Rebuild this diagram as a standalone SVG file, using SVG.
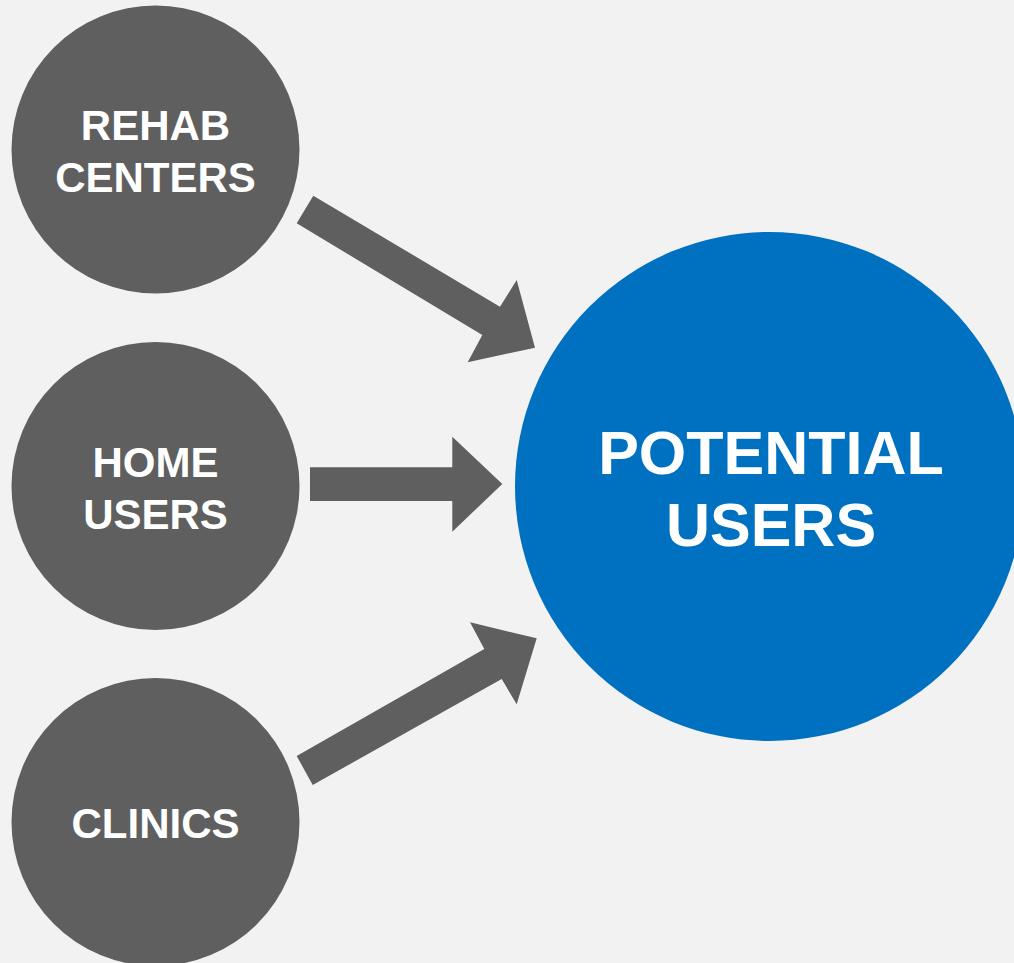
<svg xmlns="http://www.w3.org/2000/svg" width="1014" height="963" viewBox="0 0 1014 963">
<style>
.src{fill:#5f5f5f}
.dst{fill:#0070c0}
.arr{fill:#5f5f5f}
text{font-family:"Liberation Sans",Arial,sans-serif;font-weight:bold;fill:#ffffff;text-anchor:middle}
.s{font-size:42px}
.b{font-size:61px}
</style>
<rect width="1014" height="963" fill="#f2f2f2"/>
<g id="rehab">
<circle class="src" cx="155.5" cy="149.5" r="144"/>
<text class="s" x="155.5" y="140">REHAB</text>
<text class="s" x="155.5" y="192">CENTERS</text>
</g>
<g id="home">
<circle class="src" cx="155.5" cy="486" r="144"/>
<text class="s" x="155.5" y="477">HOME</text>
<text class="s" x="155.5" y="529">USERS</text>
</g>
<g id="clinics">
<circle class="src" cx="155.5" cy="822" r="144"/>
<text class="s" x="155.5" y="838">CLINICS</text>
</g>
<g id="potential">
<circle class="dst" cx="769.5" cy="486.5" r="254.5"/>
<text class="b" x="771" y="474">POTENTIAL</text>
<text class="b" x="771" y="546">USERS</text>
</g>
<g id="connectors">
<polygon class="arr" points="313.3,195.7 500,306.7 516.7,280 535,347.7 467.7,362.3 482.3,335 296.7,223.3"/>
<polygon class="arr" points="310,467.3 452.3,467.3 452.3,436.7 502.3,484 452.3,531.7 452.3,501 310,501"/>
<polygon class="arr" points="296.7,756 484.3,649 470,622.3 536.7,638.3 516.7,704.3 501.7,679 312.7,785"/>
</g>
</svg>
